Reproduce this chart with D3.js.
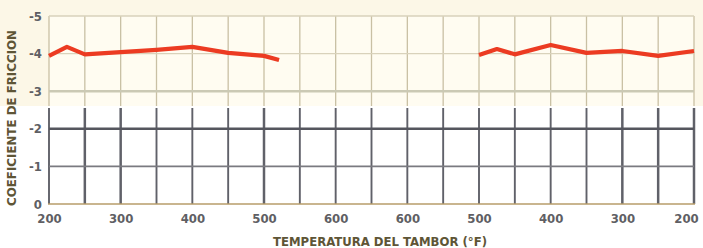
<!DOCTYPE html>
<html><head><meta charset="utf-8">
<script src="https://cdn.jsdelivr.net/npm/d3@7"></script>
<style>body{margin:0;background:#fff}svg{display:block}</style>
</head><body>
<svg id="c" width="703" height="248"></svg>
<script>
// gridline positions (index along the drum temperature axis)
const gridIdx = d3.range(0, 19);
const tickIdx = [0, 2, 4, 6, 8, 10, 12, 14, 16, 18];
const tickLabels = ["200", "300", "400", "500", "600", "600", "500", "400", "300", "200"];
const yTicks = [-5, -4, -3, -2, -1, 0];
const yTickLabels = ["-5", "-4", "-3", "-2", "-1", "0"];
// series: left (heating) segment and right (cooling) segment
const leftX = [0, 0.5, 1, 2, 3, 4, 5, 6, 6.42];
const leftY = [-3.94, -4.18, -3.98, -4.04, -4.1, -4.18, -4.02, -3.94, -3.83];
const rightX = [12, 12.5, 13, 14, 15, 16, 17, 18];
const rightY = [-3.96, -4.12, -3.98, -4.23, -4.02, -4.07, -3.94, -4.07];

const svg = d3.select("#c");
const L = 49, R = 694, T = 16, B = 204, split = 106;
const x = d3.scaleLinear().domain([0, 18]).range([L, R]);
const y = d3.scaleLinear().domain([0, -5]).range([B, T]);
const FONT = "'DejaVu Sans Condensed','Liberation Sans Narrow',sans-serif";

// backgrounds
svg.append("rect").attr("x", 0).attr("y", 0).attr("width", 703).attr("height", split).attr("fill", "#fcf7e7");
svg.append("rect").attr("x", L).attr("y", T).attr("width", R - L).attr("height", split - T).attr("fill", "#fffcf1");

// upper (cream) grid
const g = svg.append("g");
g.selectAll(".vu").data(gridIdx).enter().append("line")
  .attr("x1", d => x(d)).attr("x2", d => x(d)).attr("y1", T).attr("y2", split)
  .attr("stroke", "#c9c0a4").attr("stroke-width", 1.3);
[-5, -4].forEach(v => g.append("line").attr("x1", L).attr("x2", R).attr("y1", y(v)).attr("y2", y(v))
  .attr("stroke", "#d9d2bb").attr("stroke-width", 1.3));
g.append("line").attr("x1", L).attr("x2", R).attr("y1", y(-3)).attr("y2", y(-3))
  .attr("stroke", "#cbc9b4").attr("stroke-width", 2.5);

// lower (dark) grid
g.selectAll(".vl").data(gridIdx).enter().append("line")
  .attr("x1", d => x(d)).attr("x2", d => x(d)).attr("y1", split + 2).attr("y2", B)
  .attr("stroke", "#606169").attr("stroke-width", d => (d === 1 || d === 2 || d === 16 || d === 17 || d === 18 || d === 6) ? 2.5 : 1.9);
g.append("line").attr("x1", L).attr("x2", R).attr("y1", y(-2)).attr("y2", y(-2))
  .attr("stroke", "#55565e").attr("stroke-width", 2.6);
g.append("line").attr("x1", L).attr("x2", R).attr("y1", y(-1)).attr("y2", y(-1))
  .attr("stroke", "#7a7a80").attr("stroke-width", 1.6);
g.append("line").attr("x1", L - 1).attr("x2", R + 1).attr("y1", B).attr("y2", B)
  .attr("stroke", "#b79c6a").attr("stroke-width", 1.6);

// axes text
const yAxis = d3.axisLeft(y).tickValues(yTicks).tickSize(0).tickPadding(7)
  .tickFormat((d, i) => yTickLabels[i]);
const ya = svg.append("g").attr("transform", `translate(${L},0)`).call(yAxis);
ya.select(".domain").remove();
ya.selectAll("text").attr("font-family", FONT)
  .attr("font-size", 13).attr("fill", "#5f5f64").attr("font-weight", "bold");

const xAxis = d3.axisBottom(x).tickValues(tickIdx).tickSize(0).tickPadding(10)
  .tickFormat((d, i) => tickLabels[i]);
const xa = svg.append("g").attr("transform", `translate(0,${B})`).call(xAxis);
xa.select(".domain").remove();
xa.selectAll("text").attr("font-family", FONT)
  .attr("font-size", 13).attr("fill", "#5f5f64").attr("font-weight", "bold")
  .attr("dx", (d, i) => i === tickIdx.length - 1 ? -8 : 0);

svg.append("text").attr("x", 380).attr("y", 246).attr("text-anchor", "middle")
  .attr("font-family", FONT)
  .attr("font-size", 13).attr("font-weight", "bold").attr("fill", "#5e5536")
  .attr("textLength", 214).attr("lengthAdjust", "spacingAndGlyphs")
  .text("TEMPERATURA DEL TAMBOR (°F)");
svg.append("text").attr("transform", "translate(16,118) rotate(-90)").attr("text-anchor", "middle")
  .attr("font-family", FONT)
  .attr("font-size", 12).attr("font-weight", "bold").attr("fill", "#5e5536")
  .attr("textLength", 176).attr("lengthAdjust", "spacingAndGlyphs")
  .text("COEFICIENTE DE FRICCION");

// series
const line = d3.line().x(d => x(d[0])).y(d => y(d[1]));
[[leftX, leftY], [rightX, rightY]].forEach(([xs, ys]) => {
  svg.append("path").datum(xs.map((v, i) => [v, ys[i]])).attr("d", line)
    .attr("fill", "none").attr("stroke", "#ec3b22").attr("stroke-width", 4.2)
    .attr("stroke-linejoin", "round").attr("stroke-linecap", "butt");
});
</script>
</body></html>
